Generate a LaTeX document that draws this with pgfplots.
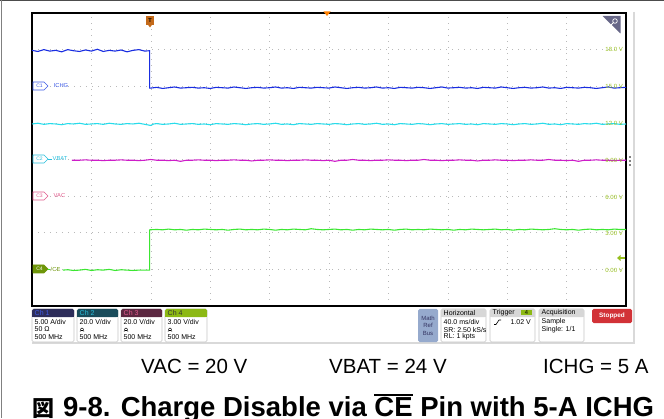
\documentclass[border=0pt]{standalone}
\usepackage{pgfplots}
\pgfplotsset{compat=1.18}
\usepackage{fontspec}
\setmainfont{Liberation Sans}
\newfontfamily\cjk{Noto Sans CJK JP}
\definecolor{cIchg}{RGB}{25,45,225}
\definecolor{cVbat}{RGB}{40,220,235}
\definecolor{cMag}{RGB}{205,30,200}
\definecolor{cCe}{RGB}{60,230,50}
\definecolor{lblgreen}{RGB}{150,190,30}
\definecolor{lblC1}{RGB}{60,90,230}
\definecolor{lblC2}{RGB}{40,190,220}
\definecolor{lblC3}{RGB}{225,90,140}
\definecolor{lblC4}{RGB}{110,150,10}
\definecolor{hdC1}{RGB}{45,45,90}
\definecolor{hdC2}{RGB}{25,75,90}
\definecolor{hdC3}{RGB}{92,40,65}
\definecolor{hdC4}{RGB}{140,185,20}
\definecolor{hdGray}{RGB}{215,215,215}
\definecolor{mathbox}{RGB}{150,170,205}
\definecolor{stopred}{RGB}{210,50,55}
\definecolor{trigorange}{RGB}{195,105,25}
\newcommand\chmark[5]{% x, Y, color, text, fill
  \draw[#3, line width=0.7pt, fill=#5] (#1,#2-4) -- (#1+11,#2-4) -- (#1+15,#2) -- (#1+11,#2+4) -- (#1,#2+4) -- cycle;}
\newcommand\bwicon[2]{%
  \draw[line width=0.45pt] (#1,#2-2.2) .. controls (#1+0.4,#2+2.8) and (#1+3.6,#2+2.8) .. (#1+4,#2-2.2);
  \draw[line width=0.45pt] (#1+0.6,#2-0.4) -- (#1+3.4,#2-0.4);}
\newcommand\infobox[7]{% x0, x1, header colour, header text colour, header, line1, line3
  \draw[gray!45, line width=0.6pt, fill=white, rounded corners=1.5pt] (#1,76) rectangle (#2,109);
  \fill[#3, rounded corners=1.5pt] (#1,101) rectangle (#2,109);
  \fill[#3] (#1,101) rectangle (#2,104);
  \node[anchor=west, text=#4, inner sep=0, font=\fontsize{7}{7}\selectfont] at (#1+2.5,105.2) {#5};
  \node[anchor=west, inner sep=0, font=\fontsize{7}{7}\selectfont] at (#1+2.5,96) {#6};
  \node[anchor=west, inner sep=0, font=\fontsize{7}{7}\selectfont] at (#1+2.5,81) {#7};}
\begin{document}
\begin{tikzpicture}[x=1pt,y=1pt]
\path[use as bounding box] (0,0) rectangle (664,418);
% outer frame lines
\draw[black!70, line width=0.8pt] (0,417.2) -- (664,417.2);
\draw[black!50, line width=0.8pt] (1,418) -- (1,0);
% screen border (light gray)
\draw[gray!30, line width=1.4pt] (634,406) -- (634,75) -- (32,75);
\begin{axis}[
  at={(32pt,112pt)}, anchor=south west,
  width=594pt, height=293pt, scale only axis,
  xmin=0, xmax=10, ymin=0, ymax=8,
  axis line style={line width=1.6pt, black},
  xtick={1,...,9}, ytick={1,...,7},
  xticklabels={}, yticklabels={},
  major tick length=0pt,
  grid=major,
  grid style={gray!55, line width=0.6pt, dash pattern=on 0.8pt off 5.2pt},
  clip=true,
  every axis plot/.append style={line width=1.1pt, sharp plot, mark=none},
]
% ICHG (Ch1)
\addplot[cIchg] coordinates {(0.00,6.98)(0.10,6.95)(0.20,7.00)(0.30,6.96)(0.40,6.98)(0.50,6.94)(0.60,7.00)(0.70,6.97)(0.80,6.95)(0.90,6.99)(1.00,6.96)(1.10,7.01)(1.20,6.95)(1.30,6.98)(1.40,6.96)(1.50,6.99)(1.60,6.94)(1.70,6.98)(1.80,7.00)(1.90,6.96)(1.98,6.97)(1.98,5.95)(2.00,5.95)
(2.10,5.97)(2.20,5.94)(2.30,5.96)(2.40,5.98)(2.50,5.95)(2.60,5.96)(2.70,5.97)(2.80,5.95)(2.90,5.96)(3.00,5.94)(3.10,5.97)(3.20,5.96)(3.30,5.95)(3.40,5.98)(3.50,5.96)(3.60,5.94)(3.70,5.96)(3.80,5.97)(3.90,5.95)(4.00,5.96)(4.10,5.98)(4.20,5.95)(4.30,5.96)(4.40,5.94)(4.50,5.97)(4.60,5.96)(4.70,5.95)(4.80,5.97)(4.90,5.96)(5.00,5.95)(5.10,5.98)(5.20,5.96)(5.30,5.94)(5.40,5.96)(5.50,5.97)(5.60,5.95)(5.70,5.96)(5.80,5.98)(5.90,5.95)(6.00,5.96)(6.10,5.94)(6.20,5.97)(6.30,5.96)(6.40,5.95)(6.50,5.97)(6.60,5.96)(6.70,5.94)(6.80,5.96)(6.90,5.98)(7.00,5.95)(7.10,5.96)(7.20,5.97)(7.30,5.95)(7.40,5.96)(7.50,5.94)(7.60,5.97)(7.70,5.96)(7.80,5.95)(7.90,5.98)(8.00,5.96)(8.10,5.94)(8.20,5.96)(8.30,5.97)(8.40,5.95)(8.50,5.96)(8.60,5.98)(8.70,5.95)(8.80,5.96)(8.90,5.94)(9.00,5.97)(9.10,5.96)(9.20,5.95)(9.30,5.97)(9.40,5.96)(9.50,5.94)(9.60,5.96)(9.70,5.98)(9.80,5.95)(9.90,5.96)(10.00,5.97)};
% cyan trace
\addplot[cVbat] coordinates {(0.00,4.97)(0.10,4.99)(0.20,4.96)(0.30,4.98)(0.40,4.97)(0.50,4.95)(0.60,4.98)(0.70,4.97)(0.80,4.99)(0.90,4.96)(1.00,4.97)(1.10,4.98)(1.20,4.96)(1.30,4.99)(1.40,4.97)(1.50,4.96)(1.60,4.98)(1.70,4.97)(1.80,4.99)(1.90,4.96)(2.00,4.93)(2.05,4.97)(2.10,4.98)(2.20,4.96)(2.30,4.97)(2.40,4.99)(2.50,4.96)(2.60,4.97)(2.70,4.98)(2.80,4.96)(2.90,4.97)(3.00,4.95)(3.10,4.98)(3.20,4.97)(3.30,4.96)(3.40,4.98)(3.50,4.97)(3.60,4.95)(3.70,4.97)(3.80,4.98)(3.90,4.96)(4.00,4.97)(4.10,4.99)(4.20,4.96)(4.30,4.97)(4.40,4.95)(4.50,4.98)(4.60,4.97)(4.70,4.96)(4.80,4.98)(4.90,4.97)(5.00,4.96)(5.10,4.98)(5.20,4.97)(5.30,4.95)(5.40,4.97)(5.50,4.98)(5.60,4.96)(5.70,4.97)(5.80,4.99)(5.90,4.96)(6.00,4.97)(6.10,4.95)(6.20,4.98)(6.30,4.97)(6.40,4.96)(6.50,4.98)(6.60,4.97)(6.70,4.95)(6.80,4.97)(6.90,4.98)(7.00,4.96)(7.10,4.97)(7.20,4.98)(7.30,4.96)(7.40,4.97)(7.50,4.95)(7.60,4.98)(7.70,4.97)(7.80,4.96)(7.90,4.98)(8.00,4.97)(8.10,4.95)(8.20,4.97)(8.30,4.98)(8.40,4.96)(8.50,4.97)(8.60,4.99)(8.70,4.96)(8.80,4.97)(8.90,4.95)(9.00,4.98)(9.10,4.97)(9.20,4.96)(9.30,4.98)(9.40,4.97)(9.50,4.99)(9.60,4.96)(9.70,4.97)(9.80,4.98)(9.90,4.96)(10.00,4.97)};
% magenta trace
\addplot[cMag] coordinates {(0.67,3.98)(0.80,3.98)(0.90,3.99)(1.00,3.98)(1.10,3.98)(1.20,3.97)(1.30,3.98)(1.40,3.98)(1.50,3.99)(1.60,3.98)(1.70,3.98)(1.80,3.97)(1.90,3.98)(2.00,4.00)(2.10,3.98)(2.20,3.98)(2.30,3.97)(2.40,3.98)(2.50,3.95)(2.60,3.98)(2.70,3.98)(2.80,3.99)(2.90,3.98)(3.00,3.98)(3.10,3.97)(3.20,3.98)(3.30,3.98)(3.40,3.99)(3.50,3.98)(3.60,3.98)(3.70,3.96)(3.80,3.98)(3.90,3.98)(4.00,3.99)(4.10,3.98)(4.20,3.98)(4.30,3.97)(4.40,3.98)(4.50,3.98)(4.60,3.99)(4.70,3.98)(4.80,3.98)(4.90,3.97)(5.00,3.98)(5.10,3.95)(5.20,3.98)(5.30,3.98)(5.40,4.00)(5.50,3.98)(5.60,3.98)(5.70,3.97)(5.80,3.98)(5.90,3.98)(6.00,3.99)(6.10,3.98)(6.20,3.98)(6.30,3.97)(6.40,3.98)(6.50,3.98)(6.60,4.00)(6.70,3.98)(6.80,3.98)(6.90,3.97)(7.00,3.98)(7.10,3.98)(7.20,3.99)(7.30,3.98)(7.40,3.98)(7.50,3.96)(7.60,3.98)(7.70,3.98)(7.80,3.99)(7.90,3.98)(8.00,3.98)(8.10,3.97)(8.20,3.98)(8.30,3.98)(8.40,3.99)(8.50,3.98)(8.60,3.98)(8.70,4.00)(8.80,3.98)(8.90,3.98)(9.00,3.97)(9.10,3.98)(9.20,3.95)(9.30,3.98)(9.40,3.98)(9.50,3.99)(9.60,3.98)(9.70,3.98)(9.80,3.97)(9.90,3.98)(10.00,3.98)};
% /CE (Ch4)
\addplot[cCe] coordinates {(0.52,0.98)(0.60,0.99)(0.70,0.97)(0.80,0.98)(0.90,1.00)(1.00,0.97)(1.10,0.99)(1.20,0.98)(1.30,1.00)(1.40,0.97)(1.50,0.99)(1.60,0.98)(1.70,0.97)(1.80,0.98)(1.90,0.98)(1.98,0.98)(1.98,2.08)
(2.10,2.09)(2.20,2.08)(2.30,2.10)(2.40,2.08)(2.50,2.09)(2.60,2.07)(2.70,2.09)(2.80,2.08)(2.90,2.10)(3.00,2.09)(3.10,2.08)(3.20,2.09)(3.30,2.07)(3.40,2.09)(3.50,2.10)(3.60,2.08)(3.70,2.09)(3.80,2.08)(3.90,2.10)(4.00,2.09)(4.10,2.07)(4.20,2.09)(4.30,2.08)(4.40,2.10)(4.50,2.09)(4.60,2.08)(4.70,2.11)(4.80,2.09)(4.90,2.08)(5.00,2.09)(5.10,2.10)(5.20,2.08)(5.30,2.09)(5.40,2.07)(5.50,2.09)(5.60,2.08)(5.70,2.10)(5.80,2.09)(5.90,2.08)(6.00,2.09)(6.10,2.07)(6.20,2.09)(6.30,2.10)(6.40,2.08)(6.50,2.09)(6.60,2.08)(6.70,2.10)(6.80,2.09)(6.90,2.08)(7.00,2.09)(7.10,2.07)(7.20,2.09)(7.30,2.08)(7.40,2.10)(7.50,2.09)(7.60,2.08)(7.70,2.09)(7.80,2.10)(7.90,2.08)(8.00,2.09)(8.10,2.07)(8.20,2.09)(8.30,2.08)(8.40,2.10)(8.50,2.09)(8.60,2.08)(8.70,2.09)(8.80,2.11)(8.90,2.09)(9.00,2.08)(9.10,2.09)(9.20,2.07)(9.30,2.09)(9.40,2.10)(9.50,2.08)(9.60,2.09)(9.70,2.08)(9.80,2.10)(9.90,2.09)(10.00,2.09)};
\end{axis}
% right-hand scale labels
\begin{scope}[every node/.style={anchor=east, inner sep=0, text=lblgreen, font=\fontsize{6}{6}\selectfont}]
\node at (623,369) {18.0 V};
\node at (623,331.5) {15.0 V};
\node at (623,294.5) {12.0 V};
\node at (623,258) {9.00 V};
\node at (623,221) {6.00 V};
\node at (623,184.5) {3.00 V};
\node at (623,148) {0.00 V};
\end{scope}
% channel markers
\chmark{33}{332}{lblC1}{C1}{white}
\node[text=lblC1, inner sep=0, font=\fontsize{5}{5}\selectfont] at (39.5,332) {C1};
\node[anchor=west, text=lblC1, inner sep=0, font=\fontsize{5.8}{6}\selectfont] at (53.5,332) {ICHG};
\chmark{33}{259}{lblC2}{C2}{white}
\node[text=lblC2, inner sep=0, font=\fontsize{5}{5}\selectfont] at (39.5,259) {C2};
\draw[lblC2, line width=0.6pt] (48,259) -- (52,259);
\node[anchor=west, text=lblC2, inner sep=0, font=\fontsize{5.8}{6}\selectfont] at (52.5,259) {VBAT};
\chmark{33}{222}{lblC3}{C3}{white}
\node[text=lblC3, inner sep=0, font=\fontsize{5}{5}\selectfont] at (39.5,222) {C3};
\node[anchor=west, text=lblC3, inner sep=0, font=\fontsize{5.8}{6}\selectfont] at (53.5,222) {VAC};
\chmark{33}{149}{lblC4}{C4}{lblC4}
\node[text=white, inner sep=0, font=\fontsize{5}{5}\selectfont] at (39.5,149) {C4};
\draw[cCe, line width=0.8pt] (48,149) -- (50,149);
\node[anchor=west, text=lblC4, inner sep=0, font=\fontsize{5.8}{6}\selectfont] at (50.5,149) {/CE};
% trigger position marker
\fill[trigorange] (146,401.5) rectangle (154,393);
\fill[trigorange] (148,393.2) -- (152,393.2) -- (150,390.5) -- cycle;
\node[inner sep=0, font=\bfseries\fontsize{5.5}{6}\selectfont] at (150,397.2) {T};
% centre time marker
\fill[orange] (323.5,406.5) -- (330.5,406.5) -- (327,402) -- cycle;
% zoom icon
\fill[black!35!blue!20!gray] (602.5,402) -- (620.5,402) -- (620.5,384.5) -- cycle;
\draw[white, line width=0.7pt] (615,397) circle (2.3);
\draw[white, line width=0.8pt] (613.3,395.3) -- (610.8,392.8);
% trigger level arrow
\fill[lblgreen] (617,160) -- (620.5,163) -- (620.5,157) -- cycle;
\draw[lblgreen, line width=1.1pt] (620,160) -- (624.5,160);
% dots on right
\fill (630,261) circle (0.9);
\fill (630,257) circle (0.9);
\fill (630,253) circle (0.9);
% channel info boxes
\infobox{32}{74}{hdC1}{lblC1}{Ch 1}{5.00 A/div}{500 MHz}
\node[anchor=west, inner sep=0, font=\fontsize{7}{7}\selectfont] at (34.5,88.5) {50 Ω};
\infobox{77}{118}{hdC2}{lblC2}{Ch 2}{20.0 V/div}{500 MHz}
\bwicon{80}{88.5}
\infobox{121}{162}{hdC3}{lblC3}{Ch 3}{20.0 V/div}{500 MHz}
\bwicon{124}{88.5}
\infobox{165}{207}{hdC4}{black!80}{Ch 4}{3.00 V/div}{500 MHz}
\bwicon{168}{88.5}
% Math Ref Bus
\fill[mathbox, rounded corners=1.5pt] (418,76) rectangle (438,109);
\node[align=center, inner sep=0, text={black!70!blue!60!gray}, font=\fontsize{6}{7.4}\selectfont] at (428,92.5) {Math\\Ref\\Bus};
% Horizontal
\infobox{441}{486}{hdGray}{black}{Horizontal}{40.0 ms/div}{RL: 1 kpts}
\node[anchor=west, inner sep=0, font=\fontsize{7}{7}\selectfont] at (443.5,88.5) {SR: 2.50 kS/s};
% Trigger
\infobox{490}{535}{hdGray}{black}{Trigger}{}{}
\fill[hdC4] (521,102.5) rectangle (532,108);
\node[inner sep=0, font=\fontsize{5.8}{6}\selectfont] at (526.5,105.2) {4};
\draw[line width=0.6pt] (494,93.5) -- (496,93.5) -- (499,98) -- (501,98);
\node[anchor=east, inner sep=0, font=\fontsize{7}{7}\selectfont] at (531,96) {1.02 V};
% Acquisition
\infobox{539}{584}{hdGray}{black}{Acquisition}{Sample}{}
\node[anchor=west, inner sep=0, font=\fontsize{7}{7}\selectfont] at (541.5,88.5) {Single: 1/1};
% Stopped
\fill[stopred, rounded corners=1.5pt] (592,95) rectangle (632,109);
\node[text=white, inner sep=0, font=\bfseries\fontsize{6.4}{7}\selectfont] at (612,102) {Stopped};
% conditions
\node[anchor=base west, inner sep=0, font=\fontsize{20.5}{24}\selectfont] at (141,45) {VAC = 20 V};
\node[anchor=base west, inner sep=0, font=\fontsize{20.5}{24}\selectfont] at (329,45) {VBAT = 24 V};
\node[anchor=base west, inner sep=0, font=\fontsize{20.5}{24}\selectfont] at (543,45) {ICHG = 5 A};
% caption
\node[anchor=base west, inner sep=0, font=\cjk\bfseries\fontsize{22}{24}\selectfont] at (32.5,1.5) {図};
\node[anchor=base west, inner sep=0, font=\bfseries\fontsize{27.5}{30}\selectfont] at (63,1.5)
  {9-8. Charge Disable via \leavevmode\vbox{\hrule height 1.7pt\kern 1.6pt\hbox{CE}} Pin with 5-A ICHG};
\end{tikzpicture}
\end{document}
